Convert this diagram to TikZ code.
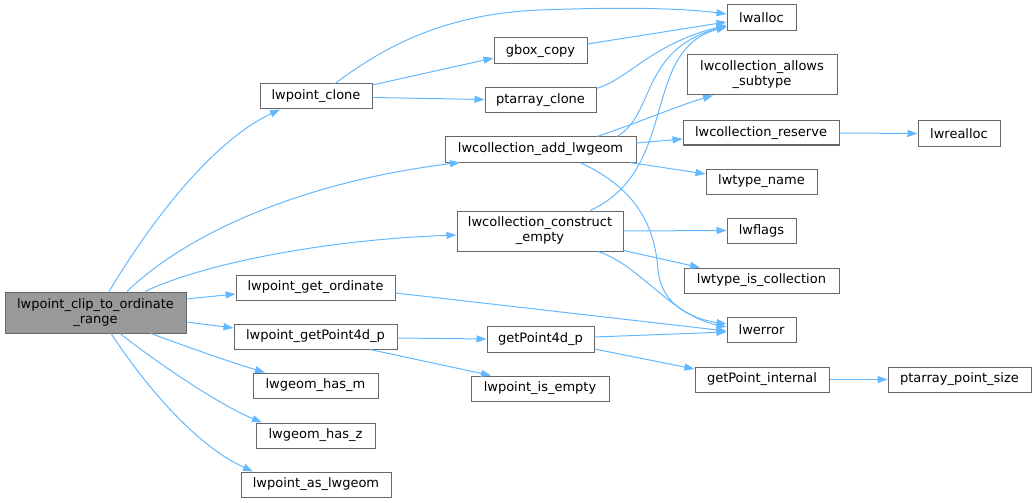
\documentclass[tikz,border=0pt]{standalone}
\usepackage{fontspec}
\setmainfont{DejaVu Sans}
\usetikzlibrary{arrows.meta}
\newlength\pxu
\setlength\pxu{0.75pt}
\definecolor{edgeblue}{HTML}{63B8FF}
\definecolor{boxborder}{HTML}{666666}
\definecolor{mainfill}{HTML}{999999}
\newcommand{\nd}[6]{\node[box, minimum width=#4\pxu, minimum height=#5\pxu] (#1) at (#2,#3) {#6};}
\begin{document}
\begin{tikzpicture}[x=0.75pt,y=-0.75pt,
  box/.style={draw=boxborder, fill=white, line width=0.75pt, inner sep=0pt, align=center,
    font=\fontsize{9.75}{11.25}\selectfont},
  edge/.style={draw=edgeblue, line width=0.75pt, -{Triangle[length=7.5pt, width=5.25pt]}}]
\useasboundingbox (0,0) rectangle (1036,503);
% nodes
\node[box, fill=mainfill, minimum width=181\pxu, minimum height=41\pxu] (main) at (95.5,312.5) {lwpoint\_clip\_to\_ordinate\\\_range};
\nd{clone}{316}{96.5}{112}{25}{lwpoint\_clone}
\nd{gbox}{540.5}{51}{93}{26}{gbox\_copy}
\nd{ptclone}{540.5}{100.5}{111}{25}{ptarray\_clone}
\nd{lwalloc}{761.5}{18}{69}{26}{lwalloc}
\nd{allows}{762}{75}{150}{40}{lwcollection\_allows\\\_subtype}
\nd{reserve}{761}{133}{156}{24}{lwcollection\_reserve}
\nd{realloc}{959}{133.5}{82}{25}{lwrealloc}
\nd{add}{540.5}{149.5}{191}{25}{lwcollection\_add\_lwgeom}
\nd{tname}{761.5}{181.5}{111}{25}{lwtype\_name}
\nd{construct}{540}{231}{166}{40}{lwcollection\_construct\\\_empty}
\nd{flags}{761.5}{230.5}{69}{25}{lwflags}
\nd{iscoll}{761.5}{280.5}{155}{25}{lwtype\_is\_collection}
\nd{lwerror}{761.5}{329.5}{69}{25}{lwerror}
\nd{gpint}{762}{379.5}{134}{25}{getPoint\_internal}
\nd{ptsize}{959.5}{379.5}{143}{25}{ptarray\_point\_size}
\nd{getord}{315.5}{287.5}{159}{25}{lwpoint\_get\_ordinate}
\nd{lwgp4d}{315.5}{336.5}{163}{25}{lwpoint\_getPoint4d\_p}
\nd{gp4d}{540.5}{339}{107}{26}{getPoint4d\_p}
\nd{isempty}{540}{388.5}{138}{25}{lwpoint\_is\_empty}
\nd{hasm}{315.5}{385.5}{125}{25}{lwgeom\_has\_m}
\nd{hasz}{315.5}{435.5}{119}{25}{lwgeom\_has\_z}
\nd{aslw}{316}{484.5}{150}{25}{lwpoint\_as\_lwgeom}
% edges from main
\draw[edge] ([xshift=13.5\pxu]main.north) .. controls (155,215) and (215,140) .. ([xshift=-36\pxu]clone.south);
\draw[edge] ([xshift=31.5\pxu]main.north) .. controls (185,235) and (300,182) .. ([xshift=-80.5\pxu]add.south);
\draw[edge] ([xshift=49.5\pxu]main.north) .. controls (200,265) and (320,240) .. ([yshift=-4\pxu]construct.west);
\draw[edge] ([yshift=13.5\pxu]main.east) -- ([yshift=-6.5\pxu]getord.west);
\draw[edge] ([yshift=-9.5\pxu]main.east) -- ([yshift=8.5\pxu]lwgp4d.west);
\draw[edge] ([xshift=55.5\pxu]main.south) .. controls (190,348) and (230,362) .. ([xshift=-50.5\pxu]hasm.north);
\draw[edge] ([xshift=24.5\pxu]main.south) .. controls (160,365) and (220,405) .. ([xshift=-53.5\pxu]hasz.north);
\draw[edge] ([xshift=15.5\pxu]main.south) .. controls (145,385) and (195,445) .. ([xshift=-63\pxu]aslw.north);
% lwpoint_clone
\draw[edge] ([xshift=19\pxu]clone.north) .. controls (380,50) and (440,14) .. (540,10) .. controls (620,7) and (680,8) .. ([yshift=4\pxu]lwalloc.west);
\draw[edge] ([yshift=11.5\pxu]clone.east) -- ([yshift=-7\pxu]gbox.west);
\draw[edge] ([yshift=-1\pxu]clone.east) -- ([yshift=1\pxu]ptclone.west);
\draw[edge] ([yshift=7\pxu]gbox.east) -- ([yshift=-4\pxu]lwalloc.west);
\draw[edge] ([yshift=-1\pxu]ptclone.north east) .. controls (630,78) and (650,45) .. ([yshift=-7\pxu]lwalloc.west);
% lwcollection_add_lwgeom
\draw[edge] ([xshift=76.5\pxu]add.north) .. controls (655,115) and (640,50) .. ([yshift=-8\pxu]lwalloc.west);
\draw[edge] ([xshift=56.5\pxu]add.north) .. controls (640,122) and (680,105) .. ([xshift=-49\pxu]allows.south);
\draw[edge] ([yshift=6.5\pxu]add.east) -- ([yshift=-6\pxu]reserve.west);
\draw[edge] ([xshift=89.5\pxu]add.south) -- ([yshift=7.5\pxu]tname.west);
\draw[edge] ([xshift=39.5\pxu]add.south) .. controls (640,190) and (655,230) .. (658,270) .. controls (662,310) and (700,320) .. ([yshift=5.5\pxu]lwerror.west);
% lwcollection_construct_empty
\draw[edge] ([xshift=50\pxu]construct.north) .. controls (680,170) and (640,50) .. ([yshift=-9\pxu]lwalloc.west);
\draw[edge] (construct.east) -- (flags.west);
\draw[edge] ([yshift=1\pxu]construct.south east) -- ([xshift=-61.5\pxu]iscoll.north);
\draw[edge] ([xshift=58\pxu]construct.south) .. controls (640,265) and (670,315) .. ([yshift=2.5\pxu]lwerror.west);
% others
\draw[edge] (reserve.east) -- (realloc.west);
\draw[edge] ([yshift=-5.5\pxu]getord.east) -- ([yshift=-1.5\pxu]lwerror.west);
\draw[edge] ([yshift=-1.5\pxu]lwgp4d.east) -- (gp4d.west);
\draw[edge] ([xshift=54.5\pxu]lwgp4d.south) -- ([xshift=-49\pxu]isempty.north);
\draw[edge] ([yshift=2\pxu]gp4d.east) -- ([yshift=-2.5\pxu]lwerror.west);
\draw[edge] ([yshift=-10\pxu]gp4d.east) -- ([yshift=10.5\pxu]gpint.west);
\draw[edge] (gpint.east) -- (ptsize.west);
\end{tikzpicture}
\end{document}
